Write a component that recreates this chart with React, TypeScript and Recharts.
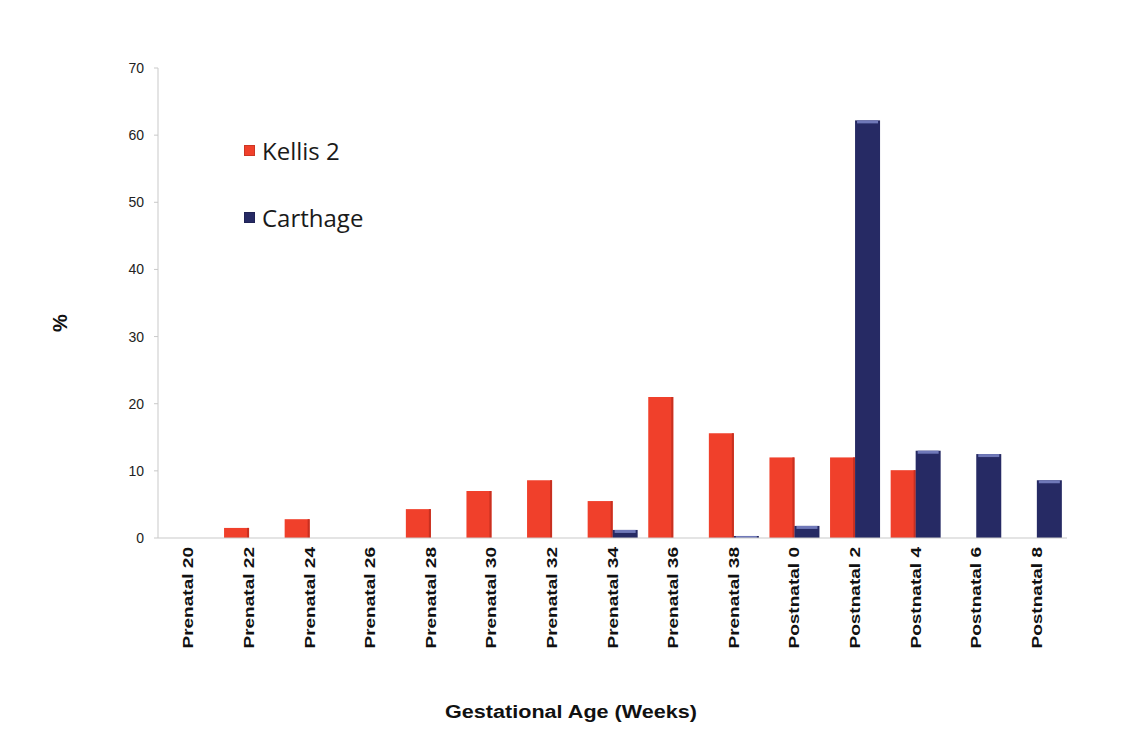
import { Bar, BarChart, Label, Legend, XAxis, YAxis } from 'recharts';

const categories = [
  'Prenatal 20', 'Prenatal 22', 'Prenatal 24', 'Prenatal 26', 'Prenatal 28',
  'Prenatal 30', 'Prenatal 32', 'Prenatal 34', 'Prenatal 36', 'Prenatal 38',
  'Postnatal 0', 'Postnatal 2', 'Postnatal 4', 'Postnatal 6', 'Postnatal 8',
];
const kellis2 = [0, 1.5, 2.8, 0, 4.3, 7.0, 8.6, 5.5, 21.0, 15.6, 12.0, 12.0, 10.1, 0, 0];
const carthage = [0, 0, 0, 0, 0, 0, 0, 1.2, 0, 0.3, 1.8, 62.2, 13.0, 12.5, 8.6];
const yTicks = [0, 10, 20, 30, 40, 50, 60, 70];
const seriesOrder = ['Kellis 2', 'Carthage'];

const RED = '#f0402b';
const NAVY = '#262a64';

const chartData = categories.map((age, i) => ({
  age,
  kellis: kellis2[i],
  carthage: carthage[i],
}));

function AgeTick({ x, y, payload }: any) {
  return (
    <g transform={`translate(${x},${y})`}>
      <text
        transform="rotate(-90) scale(1.36,1)"
        textAnchor="end"
        dy="0.36em"
        fill="#111"
        fontSize={14}
        fontWeight={700}
        fontFamily="Arial, 'Liberation Sans', sans-serif"
      >
        {payload.value}
      </text>
    </g>
  );
}

// plain bar with a slightly darker right edge
function RedBar({ x, y, width, height }: any) {
  if (!height || height <= 0) return null;
  return (
    <g>
      <rect x={x} y={y} width={width} height={height} fill={RED} />
      <rect x={x + width - 2} y={y} width={2} height={height} fill="#c83020" />
    </g>
  );
}

// navy bar with a light bevel on top
function NavyBar({ x, y, width, height }: any) {
  if (!height || height <= 0) return null;
  const cap = Math.min(3, height);
  return (
    <g>
      <rect x={x} y={y} width={width} height={height} fill={NAVY} />
      <rect x={x + 2} y={y} width={width - 4} height={cap} fill="#6f78b8" />
    </g>
  );
}

function LegendBox({ payload }: any) {
  const items = [...(payload || [])].sort(
    (a: any, b: any) => seriesOrder.indexOf(a.value) - seriesOrder.indexOf(b.value)
  );
  return (
    <div style={{ fontFamily: "'Open Sans', 'Noto Sans', sans-serif", fontSize: 24, color: '#1a1a1a' }}>
      {items.map((item: any, i: number) => (
        <div
          key={item.value}
          style={{ display: 'flex', alignItems: 'center', height: 30, marginBottom: i === 0 ? 37 : 0 }}
        >
          <span
            style={{
              display: 'inline-block',
              width: 11,
              height: 11,
              background: item.color,
              marginRight: 7,
              boxShadow: 'inset 0 0 0 1px rgba(0,0,0,0.15)',
            }}
          />
          {item.value}
        </div>
      ))}
    </div>
  );
}

export default function App() {
  return (
    <BarChart
      width={1108}
      height={730}
      data={chartData}
      margin={{ top: 60, right: 49, left: 0, bottom: 15 }}
      barCategoryGap="9%"
      barGap={0}
    >
      <XAxis
        dataKey="age"
        height={185}
        interval={0}
        tickLine={false}
        tickSize={0}
        tickMargin={9}
        tick={<AgeTick />}
        axisLine={{ stroke: '#c9c9c9' }}
      >
        <Label
          content={({ viewBox }: any) => (
            <text
              x={viewBox.x + 413}
              y={viewBox.y + viewBox.height - 5}
              textAnchor="middle"
              fill="#111"
              fontSize={18}
              fontWeight={700}
              textLength={252}
              lengthAdjust="spacingAndGlyphs"
              fontFamily="Arial, 'Liberation Sans', sans-serif"
            >
              Gestational Age (Weeks)
            </text>
          )}
        />
      </XAxis>
      <YAxis
        width={150}
        domain={[0, 70]}
        ticks={yTicks}
        interval={0}
        tickSize={4}
        tickMargin={10}
        tickLine={{ stroke: '#c9c9c9' }}
        axisLine={{ stroke: '#c9c9c9' }}
        tick={{ fill: '#222', fontSize: 14, fontFamily: 'Arial, sans-serif' }}
      >
        <Label
          content={({ viewBox }: any) => (
            <text
              x={52}
              y={viewBox.y + viewBox.height / 2 + 20}
              transform={`rotate(-90, 52, ${viewBox.y + viewBox.height / 2 + 20})`}
              textAnchor="middle"
              dominantBaseline="central"
              fill="#111"
              fontSize={20}
              fontWeight={700}
              fontFamily="Arial, sans-serif"
            >
              %
            </text>
          )}
        />
      </YAxis>
      <Legend
        layout="vertical"
        align="center"
        verticalAlign="middle"
        content={<LegendBox />}
        wrapperStyle={{ position: 'absolute', left: 236, top: 127, width: 220 }}
      />
      <Bar dataKey="kellis" name="Kellis 2" fill={RED} shape={<RedBar />} isAnimationActive={false} />
      <Bar dataKey="carthage" name="Carthage" fill={NAVY} shape={<NavyBar />} isAnimationActive={false} />
    </BarChart>
  );
}
